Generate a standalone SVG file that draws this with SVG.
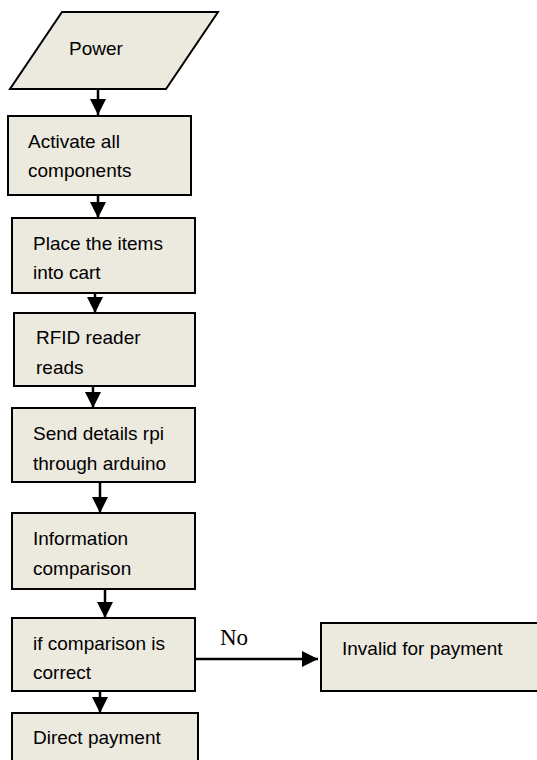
<svg xmlns="http://www.w3.org/2000/svg" width="537" height="760" viewBox="0 0 537 760">
<defs>
<style>
.box{fill:#ECE9DF;stroke:#000;stroke-width:2}
.t{font-family:"Liberation Sans",Arial,sans-serif;font-size:19px;fill:#000}
.c{stroke:#000;stroke-width:2.5;fill:none}
.no{font-family:"Liberation Serif","Times New Roman",serif;font-size:23px;fill:#000}
</style>
<marker id="ah" viewBox="0 0 10 10" refX="10" refY="5" markerWidth="6.4" markerHeight="6.4" markerUnits="strokeWidth" orient="auto">
<path d="M0,0 L10,5 L0,10 z" fill="#000"/>
</marker>
</defs>
<rect width="537" height="760" fill="#fff"/>
<g id="connectors">
<line class="c" x1="98" y1="89" x2="98" y2="115" marker-end="url(#ah)"/>
<line class="c" x1="98" y1="195" x2="98" y2="218" marker-end="url(#ah)"/>
<line class="c" x1="95" y1="287" x2="95" y2="313" marker-end="url(#ah)"/>
<line class="c" x1="93" y1="377" x2="93" y2="408" marker-end="url(#ah)"/>
<line class="c" x1="100" y1="478" x2="100" y2="513" marker-end="url(#ah)"/>
<line class="c" x1="105" y1="589" x2="105" y2="618" marker-end="url(#ah)"/>
<line class="c" x1="100" y1="691" x2="100" y2="713" marker-end="url(#ah)"/>
<line class="c" x1="195" y1="659" x2="318" y2="659" marker-end="url(#ah)"/>
<text class="no" x="220" y="645">No</text>
</g>
<g id="power">
<polygon class="box" points="62,12 218,12 166,89 10,89"/>
<text class="t" x="69" y="55">Power</text>
</g>
<g id="activate">
<rect class="box" x="8" y="116" width="183" height="79"/>
<text class="t" x="28" y="148">Activate all</text>
<text class="t" x="28" y="177">components</text>
</g>
<g id="place">
<rect class="box" x="12" y="218" width="183" height="75"/>
<text class="t" x="33" y="250">Place the items</text>
<text class="t" x="33" y="279">into cart</text>
</g>
<g id="rfid">
<rect class="box" x="14" y="313" width="181" height="73"/>
<text class="t" x="36" y="344">RFID reader</text>
<text class="t" x="36" y="374">reads</text>
</g>
<g id="send">
<rect class="box" x="12" y="408" width="183" height="74"/>
<text class="t" x="33" y="440">Send details rpi</text>
<text class="t" x="33" y="470">through arduino</text>
</g>
<g id="info">
<rect class="box" x="12" y="513" width="183" height="76"/>
<text class="t" x="33" y="545">Information</text>
<text class="t" x="33" y="575">comparison</text>
</g>
<g id="compare">
<rect class="box" x="12" y="618" width="183" height="73"/>
<text class="t" x="33" y="650">if comparison is</text>
<text class="t" x="33" y="679">correct</text>
</g>
<g id="direct">
<rect class="box" x="12" y="713" width="186" height="60"/>
<text class="t" x="33" y="744">Direct payment</text>
</g>
<g id="invalid">
<rect class="box" x="321" y="623" width="220" height="68"/>
<text class="t" x="342" y="655">Invalid for payment</text>
</g>
</svg>
